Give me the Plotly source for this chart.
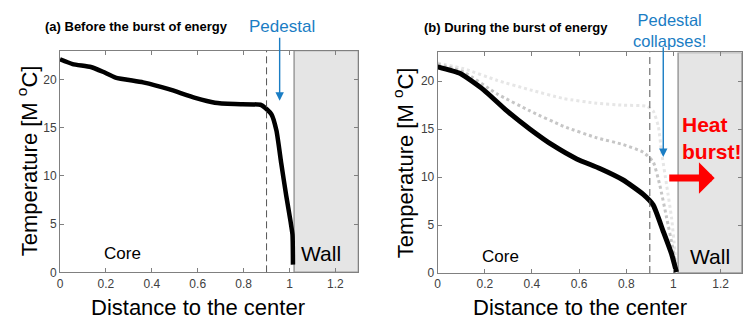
import plotly.graph_objects as go

FONT = "Liberation Sans, Arial, Helvetica, sans-serif"
W, H = 743, 327

# ---------------- data ----------------
# (a) before the burst
xa = [0, 0.055, 0.134, 0.187, 0.242, 0.362, 0.474, 0.589, 0.675, 0.762, 0.877, 0.921, 0.943, 0.964, 0.986, 1.005, 1.013, 1.015]
ya = [22.1, 21.6, 21.3, 20.8, 20.2, 19.7, 19.0, 18.1, 17.6, 17.45, 17.35, 16.4, 14.7, 11.3, 7.9, 5.2, 3.9, 0.8]

# (b) during the burst
xb_black = [0, 0.096, 0.195, 0.294, 0.392, 0.49, 0.59, 0.688, 0.787, 0.872, 0.914, 0.956, 0.992, 1.013]
yb_black = [21.5, 20.8, 19.1, 16.9, 15.0, 13.3, 11.9, 10.9, 9.7, 8.2, 7.1, 4.4, 2.0, 0.1]

xb_mid = [0, 0.111, 0.251, 0.392, 0.534, 0.675, 0.787, 0.872, 0.914, 0.942, 0.971, 0.999, 1.013]
yb_mid = [21.8, 20.95, 18.7, 16.9, 15.3, 14.1, 13.4, 12.6, 11.6, 9.2, 5.8, 2.4, 0.1]

xb_light = [0, 0.111, 0.251, 0.392, 0.534, 0.675, 0.787, 0.886, 0.914, 0.936, 0.95, 0.971, 0.992, 1.006, 1.013]
yb_light = [21.9, 21.3, 20.1, 19.1, 18.2, 17.7, 17.5, 17.4, 16.9, 15.3, 12.6, 9.2, 5.8, 2.4, 0.1]

x_ticks = [0, 0.2, 0.4, 0.6, 0.8, 1.0, 1.2]
x_ticklabels = ["0", "0.2", "0.4", "0.6", "0.8", "1", "1.2"]
y_ticks = [0, 5, 10, 15, 20]
y_ticklabels = ["0", "5", "10", "15", "20"]

pedestal_x = 0.9
wall_start = 1.02

# ---------------- figure ----------------
fig = go.Figure()

fig.add_trace(go.Scatter(x=xa, y=ya, mode="lines", xaxis="x", yaxis="y",
                         line=dict(color="black", width=4.5, shape="spline", smoothing=0.5),
                         showlegend=False, hoverinfo="skip"))

fig.add_trace(go.Scatter(x=xb_light, y=yb_light, mode="lines", xaxis="x2", yaxis="y2",
                         line=dict(color="#e6e6e6", width=3, dash="dot", shape="spline", smoothing=0.5),
                         showlegend=False, hoverinfo="skip"))
fig.add_trace(go.Scatter(x=xb_mid, y=yb_mid, mode="lines", xaxis="x2", yaxis="y2",
                         line=dict(color="#c6c6c6", width=3, dash="dot", shape="spline", smoothing=0.5),
                         showlegend=False, hoverinfo="skip"))
fig.add_trace(go.Scatter(x=xb_black, y=yb_black, mode="lines", xaxis="x2", yaxis="y2",
                         line=dict(color="black", width=5, shape="spline", smoothing=0.5),
                         showlegend=False, hoverinfo="skip"))

axis_common = dict(showline=True, linecolor="#808080", linewidth=1, mirror="ticks",
                   ticks="inside", ticklen=4, tickcolor="#808080", tickwidth=1,
                   showgrid=False, zeroline=False,
                   tickfont=dict(family=FONT, size=12, color="#404040"))

fig.update_layout(
    width=W, height=H,
    margin=dict(l=0, r=0, t=0, b=0, pad=0),
    paper_bgcolor="white", plot_bgcolor="white",
    font=dict(family=FONT),
    xaxis=dict(domain=[57.3 / W, 357.3 / W], range=[0, 1.3], anchor="y",
               tickvals=x_ticks, ticktext=x_ticklabels, **axis_common),
    yaxis=dict(domain=[1 - 278.3 / H, 1 - 51.7 / H], range=[0, 23], anchor="x",
               tickvals=y_ticks, ticktext=y_ticklabels, **axis_common),
    xaxis2=dict(domain=[437 / W, 1.0], range=[0, 1.291], anchor="y2",
                tickvals=x_ticks, ticktext=x_ticklabels, **axis_common),
    yaxis2=dict(domain=[1 - 279 / H, 1 - 53.6 / H], range=[0, 23], anchor="x2",
                tickvals=y_ticks, ticktext=y_ticklabels, **axis_common),
)

# wall regions and pedestal dashed lines
for xr, yr, xend in (("x", "y", 1.3), ("x2", "y2", 1.291)):
    fig.add_shape(type="rect", xref=xr, yref=yr, x0=wall_start, x1=xend, y0=0, y1=23,
                  fillcolor="#e5e5e5", line=dict(color="#9a9a9a", width=1.5), layer="below")
    fig.add_shape(type="line", xref=xr, yref=yr, x0=pedestal_x, x1=pedestal_x, y0=0, y1=23,
                  line=dict(color="#555555", width=1, dash="7px,4px"), layer="above")


def ptext(px, py, text, size, color="black", bold=False, xanchor="center", angle=0, align="center"):
    if bold:
        text = "<b>" + text + "</b>"
    fig.add_annotation(xref="paper", yref="paper", x=px / W, y=1 - py / H, text=text,
                       showarrow=False, xanchor=xanchor, yanchor="middle", textangle=angle,
                       align=align, font=dict(family=FONT, size=size, color=color))


# titles
ptext(40, 27, "(a) Before the burst of energy", 13, bold=True, xanchor="left")
ptext(421, 28, "(b) During the burst of energy", 13, bold=True, xanchor="left")

# axis titles
ptext(196, 314, "Distance to the center", 22)
ptext(580, 314, "Distance to the center", 22)
ptext(25, 164, "Temperature [M <sup>o</sup>C]", 22, angle=-90)
ptext(403, 166, "Temperature [M <sup>o</sup>C]", 22, angle=-90)

# region labels
ptext(120, 259, "Core", 17)
ptext(320, 259, "Wall", 21)
ptext(500, 262, "Core", 17)
ptext(711, 262, "Wall", 21)

# pedestal annotations
BLUE = "#1a7dc4"
ptext(281, 27, "Pedestal", 17, color=BLUE)
ptext(670, 31, "Pedestal<br>collapses!", 16.5, color=BLUE)
ptext(681, 141, "Heat<br>burst!", 21, color="#ff0000", bold=True, xanchor="left", align="left")

# blue arrows
fig.add_annotation(xref="x", yref="y", x=0.957, y=17.8, axref="x", ayref="y", ax=0.957, ay=24.5,
                   text="", showarrow=True, arrowhead=2, arrowsize=1.2, arrowwidth=1.4,
                   arrowcolor=BLUE)
fig.add_annotation(xref="x2", yref="y2", x=0.957, y=12.1, axref="x2", ayref="y2", ax=0.957, ay=23.7,
                   text="", showarrow=True, arrowhead=2, arrowsize=1.2, arrowwidth=1.4,
                   arrowcolor=BLUE)

# red heat arrow
fig.add_annotation(xref="x2", yref="y2", x=1.175, y=9.9, axref="x2", ayref="y2", ax=0.976, ay=9.9,
                   text="", showarrow=True, arrowhead=1, arrowsize=0.75, arrowwidth=7,
                   arrowcolor="#ff0000")

fig.write_html("out.html", config={"displayModeBar": False},
               post_script="document.body.style.margin='0';document.body.style.overflow='hidden';")
